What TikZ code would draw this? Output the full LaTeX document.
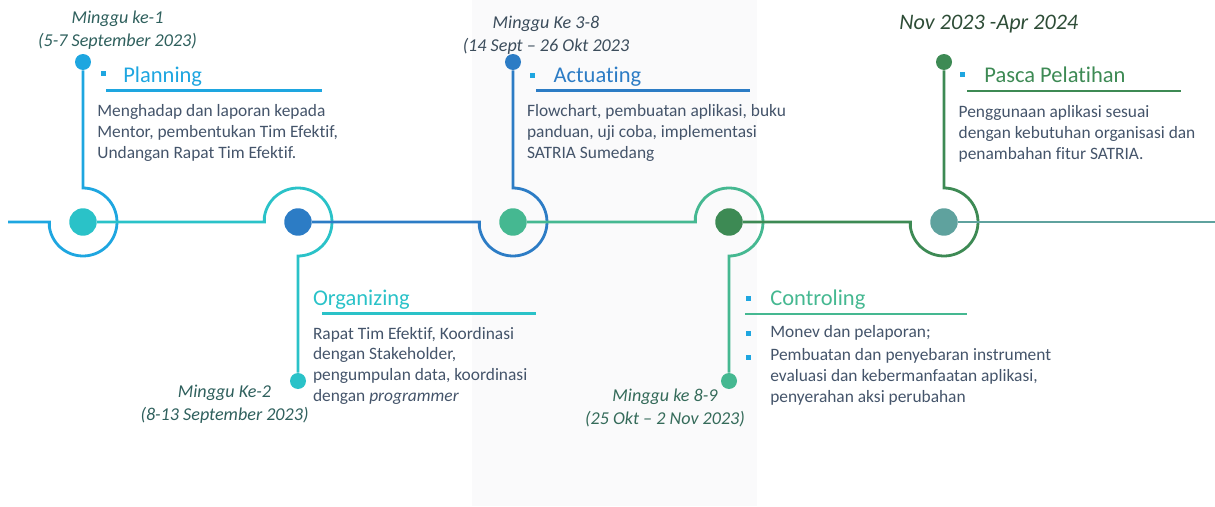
\documentclass[tikz,border=0pt]{standalone}
\usepackage{fontspec}
\setmainfont{Carlito}[Ligatures={NoCommon}]
\usetikzlibrary{calc}
\definecolor{skyBlue}{HTML}{1EA6E0}
\definecolor{turq}{HTML}{2AC2C8}
\definecolor{midBlue}{HTML}{2C7CC5}
\definecolor{seaGreen}{HTML}{45B891}
\definecolor{darkGreen}{HTML}{3D8A54}
\definecolor{tealGray}{HTML}{5FA29E}
\definecolor{bodyText}{HTML}{44546A}
\definecolor{dateTeal}{HTML}{2F605D}
\definecolor{dateSlate}{HTML}{3C4D5C}
\definecolor{dateSea}{HTML}{356B5A}
\definecolor{dateGreen}{HTML}{2E4D37}
\definecolor{panelGray}{HTML}{FAFAFB}

\begin{document}
\begin{tikzpicture}[x=0.02cm, y=0.02cm,
    ring/.style={line width=1.6pt},
    bigdot/.style={circle, minimum size=0.55cm, inner sep=0pt},
    smalldot/.style={circle, minimum size=0.32cm, inner sep=0pt},
    heading/.style={anchor=base west, inner sep=0pt, font=\fontsize{12.8}{15}\selectfont},
    body/.style={anchor=north west, inner sep=0pt, align=left, text=bodyText,
                 font=\fontsize{9.9}{11.9}\selectfont},
    datelbl/.style={anchor=north, inner sep=0pt, align=center,
                    font=\fontsize{10.3}{13}\selectfont\itshape},
    bullet/.style={fill=skyBlue, minimum size=0.1cm, inner sep=0pt},
    headrule/.style={line width=1.7pt},
  ]
    \useasboundingbox (0,0) rectangle (1215,-507);
    \fill[panelGray] (472,0) rectangle (757,-506);

    % timeline dots
    \node[bigdot, fill=turq]      (d1) at (83,-222)  {};
    \node[bigdot, fill=midBlue]   (d2) at (298,-222) {};
    \node[bigdot, fill=seaGreen]  (d3) at (513,-222) {};
    \node[bigdot, fill=darkGreen] (d4) at (729,-222) {};
    \node[bigdot, fill=tealGray]  (d5) at (944,-222) {};

    \node[smalldot, fill=skyBlue]   (t1) at (83,-62)   {};
    \node[smalldot, fill=turq]      (b2) at (298,-381) {};
    \node[smalldot, fill=midBlue]   (t3) at (513,-62)  {};
    \node[smalldot, fill=seaGreen]  (b4) at (729,-381) {};
    \node[smalldot, fill=darkGreen] (t5) at (944,-62)  {};

    \coordinate (lstart) at (8,-222);
    \coordinate (rend) at (1215,-222);

    % rings
    \draw[ring, skyBlue] (lstart) -- ($(d1)+(-33.6,0)$) -- ($(d1)+(188.5:34)$)
      arc[start angle=188.5, end angle=450, radius=0.68cm] -- (t1);
    \draw[ring, turq] (d1) -- ($(d2)+(-33.6,0)$) -- ($(d2)+(171.5:34)$)
      arc[start angle=171.5, end angle=-90, radius=0.68cm] -- (b2);
    \draw[ring, midBlue] (d2) -- ($(d3)+(-33.6,0)$) -- ($(d3)+(188.5:34)$)
      arc[start angle=188.5, end angle=450, radius=0.68cm] -- (t3);
    \draw[ring, seaGreen] (d3) -- ($(d4)+(-33.6,0)$) -- ($(d4)+(171.5:34)$)
      arc[start angle=171.5, end angle=-90, radius=0.68cm] -- (b4);
    \draw[ring, darkGreen] (d4) -- ($(d5)+(-33.6,0)$) -- ($(d5)+(188.5:34)$)
      arc[start angle=188.5, end angle=450, radius=0.68cm] -- (t5);
    \draw[ring, tealGray] (d5) -- (rend);

    % dates
    \node[datelbl, text=dateTeal]  (w1) at (117.5,-10.8) {Minggu ke-1\\(5-7 September 2023)};
    \node[datelbl, text=dateTeal]  (w2) at (224.5,-384.8) {Minggu Ke-2\\(8-13 September 2023)};
    \node[datelbl, text=dateSlate] (w3) at (546,-15.8) {Minggu Ke 3-8\\(14 Sept -- 26 Okt 2023};
    \node[datelbl, text=dateSea]   (w4) at (665,-388.5) {Minggu ke 8-9\\(25 Okt -- 2 Nov 2023)};
    \node[anchor=base, inner sep=0pt, text=dateGreen, font=\fontsize{12.6}{15}\selectfont\itshape]
      (w5) at (988.8,-29.3) {Nov 2023 -Apr 2024};

    % Planning
    \node[bullet] (p1) at (103,-73) {};
    \node[heading, text=skyBlue] (h1) at (123,-82.6) {Planning};
    \draw[headrule, skyBlue] (106,-90.7) -- (322,-90.7);
    \node[body] (x1) at (97,-104.3) {Menghadap dan laporan kepada\\Mentor, pembentukan Tim Efektif,\\Undangan Rapat Tim Efektif.};

    % Organizing
    \node[heading, text=turq] (h2) at (312.7,-305) {Organizing};
    \draw[headrule, turq] (322,-313.3) -- (536,-313.3);
    \node[body] (x2) at (312.7,-326.6) {Rapat Tim Efektif, Koordinasi\\dengan Stakeholder,\\pengumpulan data, koordinasi\\dengan \textit{programmer}};

    % Actuating
    \node[bullet] (p3) at (532,-75) {};
    \node[heading, text=midBlue] (h3) at (553.3,-82.7) {Actuating};
    \draw[headrule, midBlue] (536,-90.7) -- (750,-90.7);
    \node[body] (x3) at (526.7,-104.3) {Flowchart, pembuatan aplikasi, buku\\panduan, uji coba, implementasi\\SATRIA Sumedang};

    % Controling
    \node[bullet] (p4) at (748,-298) {};
    \node[heading, text=seaGreen] (h4) at (770,-305) {Controling};
    \draw[headrule, seaGreen] (745,-314) -- (967,-314);
    \node[bullet] (q1) at (748,-333) {};
    \node[bullet] (q2) at (748,-357) {};
    \node[body] (x4) at (770,-324.6) {Monev dan pelaporan;\\[1.4pt]Pembuatan dan penyebaran instrument\\evaluasi dan kebermanfaatan aplikasi,\\penyerahan aksi perubahan};

    % Pasca Pelatihan
    \node[bullet] (p5) at (962,-74) {};
    \node[heading, text=darkGreen] (h5) at (984,-82.7) {Pasca Pelatihan};
    \draw[headrule, darkGreen] (967,-91) -- (1181,-91);
    \node[body] (x5) at (958.3,-105) {Penggunaan aplikasi sesuai\\dengan kebutuhan organisasi dan\\penambahan fitur SATRIA.};
  \end{tikzpicture}
\end{document}
